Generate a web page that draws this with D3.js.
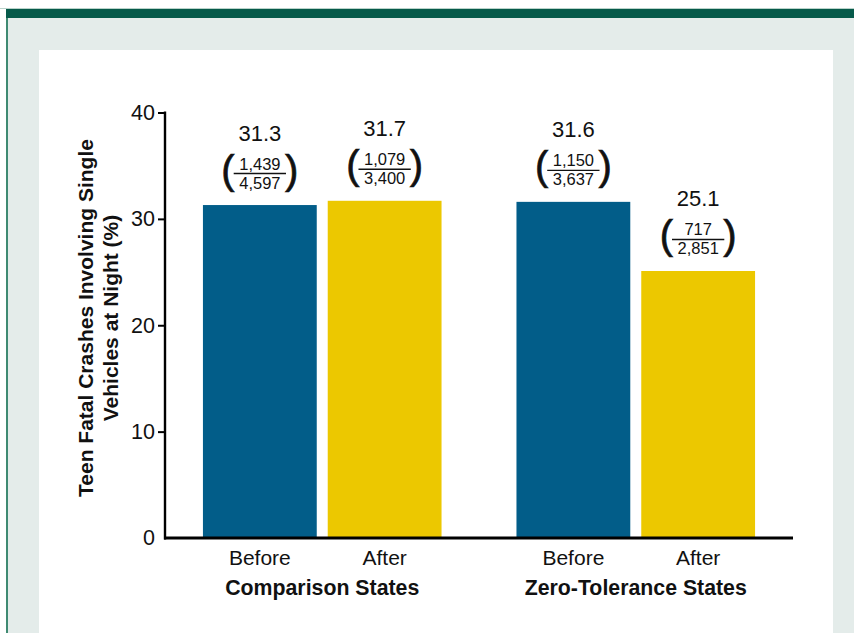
<!DOCTYPE html>
<html>
<head>
<meta charset="utf-8">
<script src="https://cdn.jsdelivr.net/npm/d3@7"></script>
<style>
  html, body { margin: 0; padding: 0; background: #ffffff; }
  svg { display: block; font-family: "Liberation Sans", Arial, Helvetica, sans-serif; }
</style>
</head>
<body>
<svg id="chart" width="854" height="633"></svg>
<script>
// Share of teen fatal crashes that were single-vehicle night-time crashes
const groups = ["Comparison States", "Zero-Tolerance States"];
const periods = ["Before", "After"];
const values = [31.3, 31.7, 31.6, 25.1];          // percent, in group/period order
const numerators = ["1,439", "1,079", "1,150", "717"];
const denominators = ["4,597", "3,400", "3,637", "2,851"];
const yTicks = [0, 10, 20, 30, 40];
const yTitle = ["Teen Fatal Crashes Involving Single", "Vehicles at Night (%)"];

const barColors = { "Before": "#025d89", "After": "#ecc800" };

const rows = values.map((v, i) => ({
  group: groups[Math.floor(i / periods.length)],
  period: periods[i % periods.length],
  value: v,
  num: numerators[i],
  den: denominators[i]
}));

const svg = d3.select("#chart");

// Page frame: green header rule, tinted panel, white plotting card
svg.append("rect").attr("x", 0).attr("y", 8).attr("width", 854).attr("height", 1).attr("fill", "#b9d3ca");
svg.append("rect").attr("x", 6).attr("y", 9).attr("width", 848).attr("height", 624).attr("fill", "#e4ecea");
svg.append("rect").attr("x", 6).attr("y", 9).attr("width", 2).attr("height", 624).attr("fill", "#3f8a72");
svg.append("rect").attr("x", 6).attr("y", 9).attr("width", 848).attr("height", 9).attr("fill", "#065a4a");
svg.append("rect").attr("x", 39).attr("y", 50).attr("width", 794).attr("height", 583).attr("fill", "#ffffff");

// Scales
const x0 = d3.scaleBand().domain(groups).range([165, 793]).paddingInner(0.239).paddingOuter(0.121);
const x1 = d3.scaleBand().domain(periods).range([0, x0.bandwidth()]).paddingInner(0.088).paddingOuter(0);
const y = d3.scaleLinear().domain([0, 40]).range([538, 112.5]);

// Bars
const bars = svg.append("g");
bars.selectAll("rect").data(rows).join("rect")
  .attr("x", d => x0(d.group) + x1(d.period))
  .attr("y", d => y(d.value))
  .attr("width", x1.bandwidth())
  .attr("height", d => y(0) - y(d.value))
  .attr("fill", d => barColors[d.period]);

// Y axis
const yAxis = svg.append("g")
  .attr("transform", "translate(165,0)")
  .call(d3.axisLeft(y).tickValues(yTicks).tickSize(7).tickPadding(3).tickFormat(d3.format("d")));
yAxis.select(".domain").remove();
yAxis.selectAll(".tick line").attr("stroke", "#000").attr("stroke-width", 2)
  .attr("display", d => d === 0 ? "none" : null);
yAxis.selectAll(".tick text").attr("font-size", 21.5).attr("fill", "#111")
  .attr("font-family", "'Liberation Sans', Arial, sans-serif");
svg.append("line").attr("x1", 165).attr("x2", 165).attr("y1", y(40) - 1).attr("y2", y(0) + 1.5)
  .attr("stroke", "#000").attr("stroke-width", 2.4);

// X axis baseline and category labels
svg.append("line").attr("x1", 164).attr("x2", 793).attr("y1", y(0)).attr("y2", y(0))
  .attr("stroke", "#000").attr("stroke-width", 3);

const xAxis = svg.append("g").attr("transform", `translate(0,${y(0)})`);
groups.forEach(g => {
  const inner = xAxis.append("g").attr("transform", `translate(${x0(g)},0)`)
    .call(d3.axisBottom(x1).tickSize(0).tickPadding(0));
  inner.select(".domain").remove();
  inner.selectAll(".tick text")
    .attr("dy", 0).attr("y", 27)
    .attr("font-size", 21).attr("fill", "#111")
    .attr("font-family", "'Liberation Sans', Arial, sans-serif");
});
svg.append("g").selectAll("text").data(groups).join("text")
  .attr("x", d => x0(d) + x0.bandwidth() / 2)
  .attr("y", 595)
  .attr("text-anchor", "middle")
  .attr("font-size", 21.3).attr("font-weight", "bold").attr("fill", "#111")
  .text(d => d);

// Y axis title (two lines, rotated)
const yt = svg.append("text")
  .attr("transform", "translate(93,318) rotate(-90)")
  .attr("text-anchor", "middle")
  .attr("font-size", 21).attr("font-weight", "bold").attr("fill", "#111");
yt.selectAll("tspan").data(yTitle).join("tspan")
  .attr("x", 0).attr("dy", (d, i) => i === 0 ? 0 : 25)
  .text(d => d);

// Value labels with fraction (numerator / denominator) in parentheses
const labels = svg.append("g").selectAll("g").data(rows).join("g")
  .attr("transform", d => `translate(${x0(d.group) + x1(d.period) + x1.bandwidth() / 2},${y(d.value)})`);

labels.append("text")
  .attr("y", -64.5).attr("text-anchor", "middle")
  .attr("font-size", 22).attr("fill", "#111")
  .text(d => d3.format(".1f")(d.value));

labels.each(function(d) {
  const g = d3.select(this);
  const num = g.append("text").attr("y", -35.5).attr("text-anchor", "middle")
    .attr("font-size", 16.5).attr("fill", "#111").text(d.num);
  const den = g.append("text").attr("y", -16.5).attr("text-anchor", "middle")
    .attr("font-size", 16.5).attr("fill", "#111").text(d.den);
  const w = Math.max(num.node().getComputedTextLength(), den.node().getComputedTextLength()) + 11;
  g.append("line").attr("x1", -w / 2).attr("x2", w / 2).attr("y1", -31.5).attr("y2", -31.5)
    .attr("stroke", "#111").attr("stroke-width", 1.4);
  g.append("text").attr("x", -w / 2 + 1).attr("y", -21.5).attr("text-anchor", "end")
    .attr("font-size", 40).attr("fill", "#111").attr("stroke", "#111").attr("stroke-width", 0.7)
    .text("(");
  g.append("text").attr("x", w / 2 - 1).attr("y", -21.5).attr("text-anchor", "start")
    .attr("font-size", 40).attr("fill", "#111").attr("stroke", "#111").attr("stroke-width", 0.7)
    .text(")");
});
</script>
</body>
</html>
